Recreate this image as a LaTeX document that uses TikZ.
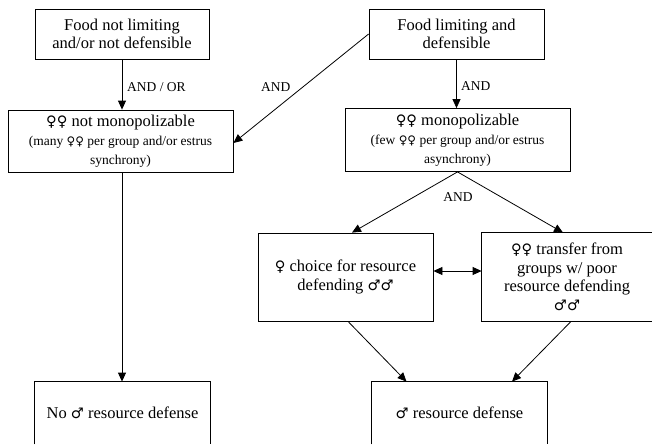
\documentclass[tikz,border=0pt]{standalone}
\usepackage{fontspec}
\setmainfont{Liberation Serif}
\newfontfamily\symf[Scale=0.88]{DejaVu Sans}
\usetikzlibrary{arrows.meta,calc}
\newcommand\ven{{\symf ♀}}
\newcommand\mrs{{\symf ♂}}
\newcommand\smallfnt{\fontsize{13.5}{15.5}\selectfont}
\begin{document}
\begin{tikzpicture}[x=1pt,y=-1pt,
  boxline/.style={line width=0.8pt},
  box/.style={boxline, inner sep=0pt, align=center, font=\fontsize{16.5}{18.5}\selectfont},
  lbl/.style={inner sep=0pt, font=\fontsize{13.5}{15}\selectfont, anchor=west},
  arr/.style={line width=0.8pt, -{Triangle[length=9pt,width=8pt]}},
  darr/.style={line width=0.8pt, {Triangle[length=9pt,width=8pt]}-{Triangle[length=9pt,width=8pt]}}]
\useasboundingbox (0,0) rectangle (652,445);

\node[box, draw, minimum width=174pt, minimum height=50pt] (A) at (122,34)
  {Food not limiting\\and/or not defensible};
\node[box, draw, minimum width=175pt, minimum height=50pt] (B) at (456.5,34)
  {Food limiting and\\defensible};
\node[box, draw, minimum width=225pt, minimum height=62pt] (C) at (120.5,141)
  {\ven\ven{} not monopolizable\\[1pt]\smallfnt (many \ven\ven{} per group and/or estrus\\\smallfnt synchrony)};
\node[box, draw, minimum width=225pt, minimum height=63pt] (D) at (457.5,140)
  {\ven\ven{} monopolizable\\[1pt]\smallfnt (few \ven\ven{} per group and/or estrus\\\smallfnt asynchrony)};
\node[box, draw, minimum width=175pt, minimum height=88pt] (E) at (345.5,277)
  {\ven{} choice for resource\\defending \mrs\mrs};
\node[box, minimum width=170pt, minimum height=88pt] (F) at (567,277)
  {\ven\ven{} transfer from\\groups w/ poor\\resource defending\\\mrs\mrs};
\node[box, minimum width=175pt, minimum height=62pt] (G) at (122.5,413)
  {No \mrs{} resource defense};
\node[box, minimum width=175pt, minimum height=62pt] (H) at (459.5,413)
  {\mrs{} resource defense};

\draw[boxline] (F.north east) -- (F.north west) -- (F.south west) -- (F.south east);
\draw[boxline] (G.south west) -- (G.north west) -- (G.north east) -- (G.south east);
\draw[boxline] (H.south west) -- (H.north west) -- (H.north east) -- (H.south east);

\draw[arr] (A.south) -- (A.south |- C.north);
\draw[arr] (B.west) -- ([yshift=-2pt]C.east);
\draw[arr] (B.south) -- (B.south |- D.north);
\draw[arr] (D.south) -- ([xshift=6.5pt]E.north);
\draw[arr] (D.south) -- ([xshift=-4pt]F.north);
\draw[darr] ([yshift=6pt]E.east) -- ([yshift=6pt]F.west);
\draw[arr] (A.south |- C.south) -- (A.south |- G.north);
\draw[arr] ([xshift=2.5pt]E.south) -- ([xshift=-53pt]H.north);
\draw[arr] ([xshift=4pt]F.south) -- ([xshift=52.5pt]H.north);

\node[lbl] (l1) at (127,87) {AND / OR};
\node[lbl] (l2) at (261,87) {AND};
\node[lbl] (l3) at (461,86) {AND};
\node[lbl, anchor=center] (l4) at (458,197) {AND};
\end{tikzpicture}
\end{document}
